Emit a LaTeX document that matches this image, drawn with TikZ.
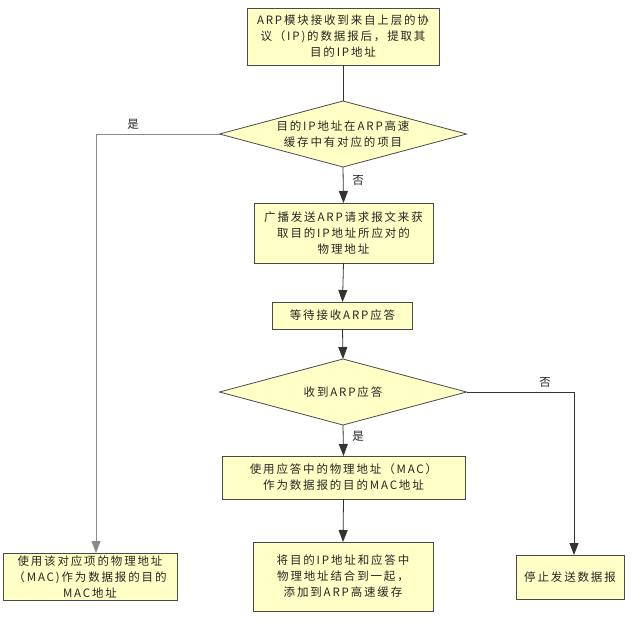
\documentclass[tikz,border=0pt]{standalone}
\usepackage{fontspec}
\newfontfamily\cjk{Noto Sans CJK SC}[LetterSpace=16]
\usetikzlibrary{shapes.geometric,arrows.meta}
\definecolor{boxfill}{HTML}{FFFFC6}
\definecolor{edgec}{HTML}{4A4A4A}
\definecolor{linec}{HTML}{333333}
\definecolor{grayline}{HTML}{8A8A8A}
\definecolor{txtc}{HTML}{262626}
\begin{document}
\begin{tikzpicture}[x=1pt,y=-1pt,
  every node/.style={font=\cjk\fontsize{11.5}{16}\selectfont, text=txtc},
  proc/.style={draw=edgec, fill=boxfill, line width=0.8pt, align=center, inner sep=0pt, outer sep=0pt},
  decision/.style={diamond, draw=edgec, fill=boxfill, line width=0.8pt, inner sep=0pt, outer sep=0pt, minimum width=247pt, minimum height=66pt},
  dtext/.style={align=center, inner sep=0pt},
  link/.style={draw=linec, line width=0.8pt},
  flow/.style={link, -{Triangle[width=9pt,length=12pt]}},
  lab/.style={inner sep=0pt}]
\useasboundingbox (0,0) rectangle (635,619);
\fill[white] (0,0) rectangle (635,619);

\node[proc, minimum width=192pt, minimum height=57pt] (b1) at (343,36.5)
  {ARP模块接收到来自上层的协\\议（IP)的数据报后，提取其\\目的IP地址};
\node[decision] (d1) at (343,134) {};
\node[dtext] (t1) at (d1.center) {目的IP地址在ARP高速\\缓存中有对应的项目};
\node[proc, minimum width=179pt, minimum height=60pt] (b2) at (343.5,233)
  {广播发送ARP请求报文来获\\取目的IP地址所应对的\\物理地址};
\node[proc, minimum width=140pt, minimum height=27pt] (b3) at (342.5,315.5)
  {等待接收ARP应答};
\node[decision] (d2) at (343,392) {};
\node[dtext] (t2) at (d2.center) {收到ARP应答};
\node[proc, minimum width=243pt, minimum height=43pt] (b4) at (343.5,477.5)
  {使用应答中的物理地址（MAC）\\作为数据报的目的MAC地址};
\node[proc, minimum width=180pt, minimum height=69pt] (b5) at (343,576.5)
  {将目的IP地址和应答中\\物理地址结合到一起，\\添加到ARP高速缓存};
\node[proc, minimum width=174pt, minimum height=47pt] (b6) at (90,576.5)
  {使用该对应项的物理地址\\（MAC)作为数据报的目的\\MAC地址};
\node[proc, minimum width=108pt, minimum height=44pt] (b7) at (570,577)
  {停止发送数据报};

\coordinate (cl) at (96,134);
\coordinate (cr) at (574,392);

\draw[link] (b1.south) -- (d1.north);
\draw[flow] (d1.south) -- (b2.north);
\draw[flow] (b2.south) -- (b3.north);
\draw[flow] (b3.south) -- (d2.north);
\draw[flow] (d2.south) -- (b4.north);
\draw[flow] (b4.south) -- (b5.north);
\draw[flow, draw=grayline] (d1.west) -- (cl) -- (cl |- b6.north);
\draw[flow] (d2.east) -- (cr) -- (cr |- b7.north);

\node[lab] (l1) at (133,124) {是};
\node[lab] (l2) at (358,180) {否};
\node[lab] (l3) at (545,382) {否};
\node[lab] (l4) at (358,436) {是};
\end{tikzpicture}
\end{document}
